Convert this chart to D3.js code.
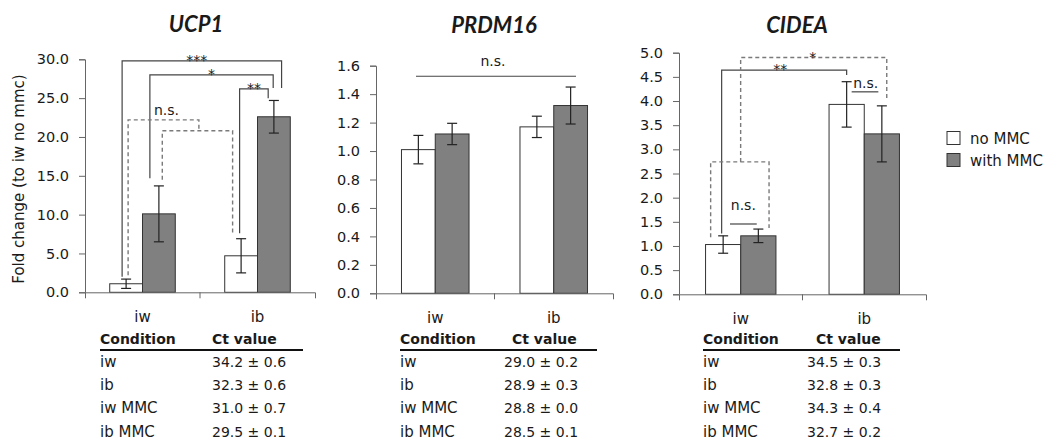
<html>
<head>
<script src="https://d3js.org/d3.v7.min.js"></script>
<style>
  body { margin: 0; background: #fff; }
  text { font-family: "DejaVu Sans", sans-serif; fill: #1a1a1a; }
  .title { font-family: Lato, sans-serif; font-weight: bold; font-style: italic; font-size: 22px; }
</style>
</head>
<body>
<svg id="chart" width="1048" height="441"></svg>
<script>
// ---- data ----
var categories = ["iw", "ib"];
var series = ["no MMC", "with MMC"];

var ucp1NoMMC = [1.1, 4.7],     ucp1NoMMCErr = [0.6, 2.2];
var ucp1WithMMC = [10.1, 22.6], ucp1WithMMCErr = [3.6, 2.1];

var prdm16NoMMC = [1.01, 1.17],   prdm16NoMMCErr = [0.10, 0.075];
var prdm16WithMMC = [1.12, 1.32], prdm16WithMMCErr = [0.075, 0.13];

var cideaNoMMC = [1.03, 3.93],   cideaNoMMCErr = [0.18, 0.47];
var cideaWithMMC = [1.21, 3.32], cideaWithMMCErr = [0.14, 0.58];

var conditions = ["iw", "ib", "iw MMC", "ib MMC"];
var ucp1Ct = [34.2, 32.3, 31.0, 29.5],   ucp1CtSd = [0.6, 0.6, 0.7, 0.1];
var prdm16Ct = [29.0, 28.9, 28.8, 28.5], prdm16CtSd = [0.2, 0.3, 0.0, 0.1];
var cideaCt = [34.5, 32.8, 34.3, 32.7],  cideaCtSd = [0.3, 0.3, 0.4, 0.2];

var axisColor = "#666";
var fills = ["#ffffff", "#808080"];

var svg = d3.select("#chart");

// brackets: points are [category, series, pixel nudge, value]
var panels = [
  {
    title: "UCP1", titleX: 196, titleY: 31.5,
    x0: 85, x1: 315, yTop: 59.3, yBottom: 292.3, yMax: 30, yStep: 5,
    means: [ucp1NoMMC, ucp1WithMMC], errs: [ucp1NoMMCErr, ucp1WithMMCErr],
    brackets: [
      { pts: [[0,0,-4,2.0],[0,0,-4,29.8],[1,1,7.7,29.8],[1,1,7.7,26.3]], label: "***", ldx: -5, dy: 4 },
      { pts: [[0,1,-9,14.7],[0,1,-9,28.0],[1,1,-0.7,28.0],[1,1,-0.7,26.3]], label: "*", ldx: 0, dy: 4 },
      { pts: [[1,0,-1.5,7.6],[1,0,-1.5,26.2],[1,1,-5.7,26.2],[1,1,-5.7,25.0]], label: "**", ldx: 0, dy: 4 },
      { pts: [[0,0,2,2.2],[0,0,2,22.2],[0,1,40,22.2],[0,1,40,20.8]], dash: true, label: "n.s.", ldx: 3, dy: -5 },
      { pts: [[0,1,3.4,14.5],[0,1,3.4,20.8],[1,0,-8.5,20.8],[1,0,-8.5,7.6]], dash: true }
    ],
    table: { left: 100, valX: 212, headX: 212, right: 303, ct: ucp1Ct, sd: ucp1CtSd }
  },
  {
    title: "PRDM16", titleX: 494, titleY: 33.3,
    x0: 376, x1: 613, yTop: 65.7, yBottom: 293.3, yMax: 1.6, yStep: 0.2,
    means: [prdm16NoMMC, prdm16WithMMC], errs: [prdm16NoMMCErr, prdm16WithMMCErr],
    brackets: [
      { pts: [[0,0,-2.4,1.526],[1,1,5.4,1.526]], label: "n.s.", ldx: -3, dy: -10 }
    ],
    table: { left: 400, valX: 504, headX: 512, right: 597, ct: prdm16Ct, sd: prdm16CtSd }
  },
  {
    title: "CIDEA", titleX: 797, titleY: 33.3,
    x0: 679, x1: 926, yTop: 52.7, yBottom: 294.3, yMax: 5, yStep: 0.5,
    means: [cideaNoMMC, cideaWithMMC], errs: [cideaNoMMCErr, cideaWithMMCErr],
    brackets: [
      { pts: [[0,0,-1.5,1.26],[0,0,-1.5,4.64],[1,0,0,4.64],[1,0,0,4.54]], label: "**", ldx: -4, dy: 4 },
      { pts: [[0,0,17.5,2.74],[0,0,17.5,4.90],[1,1,4.9,4.90],[1,1,4.9,4.06]], dash: true, label: "*", ldx: -1, dy: 4 },
      { pts: [[0,0,-12.5,1.18],[0,0,-12.5,2.74],[0,1,10.7,2.74],[0,1,10.7,1.37]], dash: true },
      { pts: [[0,0,6.8,1.455],[0,1,-1.6,1.455]], label: "n.s.", ldx: 0, dy: -14 },
      { pts: [[1,0,5,4.19],[1,1,-3.5,4.19]], label: "n.s.", ldx: 0.7, dy: -3.5 }
    ],
    table: { left: 703, valX: 807, headX: 816, right: 900, ct: cideaCt, sd: cideaCtSd }
  }
];

function drawPanel(p) {
  var g = svg.append("g");
  var x = d3.scaleBand().domain(categories).range([p.x0, p.x1]);
  var y = d3.scaleLinear().domain([0, p.yMax]).range([p.yBottom, p.yTop]);
  var bw = x.bandwidth() * 0.285;
  var s = d3.scaleBand().domain(series).range([-bw, bw]);

  function cx(c, k, dx) {
    return x(categories[c]) + x.bandwidth() / 2 + s(series[k]) + bw / 2 + (dx || 0);
  }

  g.append("text").attr("class", "title")
    .attr("x", p.titleX).attr("y", p.titleY)
    .attr("text-anchor", "middle").text(p.title);

  // bars
  var bars = [];
  categories.forEach(function (c, i) {
    series.forEach(function (sr, k) {
      bars.push({ c: i, k: k, v: p.means[k][i], e: p.errs[k][i] });
    });
  });

  g.selectAll("rect.bar").data(bars).enter().append("rect")
    .attr("class", "bar")
    .attr("x", function (d) { return cx(d.c, d.k) - bw / 2; })
    .attr("width", bw)
    .attr("y", function (d) { return y(d.v); })
    .attr("height", function (d) { return y(0) - y(d.v); })
    .attr("fill", function (d) { return fills[d.k]; })
    .attr("stroke", "#333").attr("stroke-width", 1);

  // error bars
  var eb = g.selectAll("g.err").data(bars).enter().append("g")
    .attr("stroke", "#222").attr("stroke-width", 1.2);
  eb.append("line")
    .attr("x1", function (d) { return cx(d.c, d.k); })
    .attr("x2", function (d) { return cx(d.c, d.k); })
    .attr("y1", function (d) { return y(d.v - d.e); })
    .attr("y2", function (d) { return y(d.v + d.e); });
  [-1, 1].forEach(function (sign) {
    eb.append("line")
      .attr("x1", function (d) { return cx(d.c, d.k) - 5; })
      .attr("x2", function (d) { return cx(d.c, d.k) + 5; })
      .attr("y1", function (d) { return y(d.v + sign * d.e); })
      .attr("y2", function (d) { return y(d.v + sign * d.e); });
  });

  // y axis
  g.append("g").attr("transform", "translate(" + p.x0 + ",0)")
    .call(d3.axisLeft(y)
      .tickValues(d3.range(0, p.yMax + p.yStep / 2, p.yStep))
      .tickFormat(d3.format(".1f"))
      .tickSize(6).tickPadding(10))
    .call(function (a) {
      a.attr("font-family", null).attr("font-size", 14.5);
      a.selectAll("path, line").attr("stroke", axisColor);
      a.selectAll("text").attr("fill", "#1a1a1a");
    });

  // x axis, ticks at the category boundaries
  var xa = g.append("g").attr("transform", "translate(0," + p.yBottom + ")")
    .call(d3.axisBottom(x).tickSizeInner(0).tickSizeOuter(6).tickPadding(19))
    .call(function (a) {
      a.attr("font-family", null).attr("font-size", 15);
      a.selectAll("path, line").attr("stroke", axisColor);
      a.selectAll("text").attr("fill", "#1a1a1a");
    });
  xa.append("line")
    .attr("x1", x(categories[1])).attr("x2", x(categories[1]))
    .attr("y1", 0).attr("y2", 6).attr("stroke", axisColor);

  // significance brackets
  var line = d3.line()
    .x(function (d) { return cx(d[0], d[1], d[2]); })
    .y(function (d) { return y(d[3]); });
  p.brackets.forEach(function (b) {
    g.append("path").attr("d", line(b.pts))
      .attr("fill", "none")
      .attr("stroke", b.dash ? "#7a7a7a" : "#444")
      .attr("stroke-width", b.dash ? 1.4 : 1.2)
      .attr("stroke-dasharray", b.dash ? "4,3" : null);
    if (b.label) {
      var a = b.pts[b.pts.length > 2 ? 1 : 0], z = b.pts[b.pts.length > 2 ? 2 : 1];
      var mx = (cx(a[0], a[1], a[2]) + cx(z[0], z[1], z[2])) / 2 + b.ldx;
      g.append("text")
        .attr("x", mx).attr("y", y(a[3]) + b.dy)
        .attr("text-anchor", "middle")
        .attr("font-size", 14)
        .attr("fill", "#333")
        .text(b.label);
    }
  });

  // Ct table under the panel
  var t = p.table;
  var tg = g.append("g");
  tg.append("text").attr("x", t.left).attr("y", 344)
    .attr("font-size", 14).attr("font-weight", "bold").text("Condition");
  tg.append("text").attr("x", t.headX).attr("y", 344)
    .attr("font-size", 14).attr("font-weight", "bold").text("Ct value");
  tg.append("line").attr("x1", t.left).attr("x2", t.right)
    .attr("y1", 350).attr("y2", 350).attr("stroke", "#111").attr("stroke-width", 2);
  var rowY = d3.scaleLinear().domain([0, 1]).range([366.7, 390]);
  tg.selectAll("text.cond").data(conditions).enter().append("text")
    .attr("class", "cond")
    .attr("x", t.left).attr("y", function (d, i) { return rowY(i); })
    .attr("font-size", 15).text(function (d) { return d; });
  tg.selectAll("text.ct").data(t.ct).enter().append("text")
    .attr("class", "ct")
    .attr("x", t.valX).attr("y", function (d, i) { return rowY(i); })
    .attr("font-size", 14)
    .text(function (d, i) { return d.toFixed(1) + " \u00b1 " + t.sd[i].toFixed(1); });
}

panels.forEach(drawPanel);

// y axis title
svg.append("text")
  .attr("transform", "translate(24,179) rotate(-90)")
  .attr("text-anchor", "middle")
  .attr("font-size", 15)
  .text("Fold change (to iw no mmc)");

// legend
var legend = svg.append("g").selectAll("g").data(series).enter().append("g")
  .attr("transform", function (d, i) { return "translate(947," + (131.5 + i * 22) + ")"; });
legend.append("rect").attr("width", 13).attr("height", 13)
  .attr("fill", function (d, i) { return fills[i]; })
  .attr("stroke", "#333");
legend.append("text").attr("x", 23).attr("y", 12.5)
  .attr("font-size", 15).text(function (d) { return d; });
</script>
</body>
</html>
